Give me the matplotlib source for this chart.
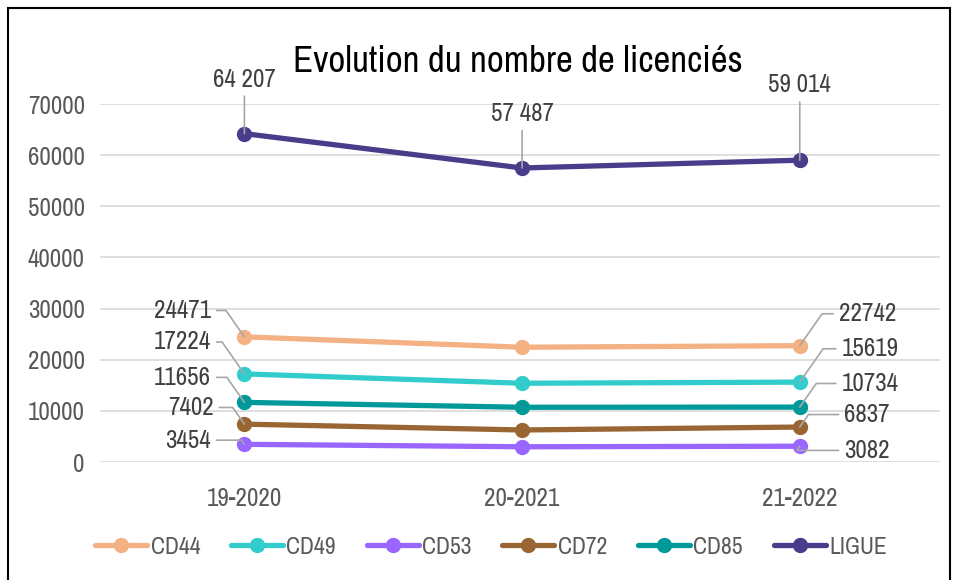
import matplotlib.pyplot as plt
from matplotlib.patches import Rectangle

seasons = ['19-2020', '20-2021', '21-2022']
cd44 = [24471, 22440, 22742]
cd49 = [17224, 15400, 15619]
cd53 = [3454, 2980, 3082]
cd72 = [7402, 6260, 6837]
cd85 = [11656, 10700, 10734]
ligue = [64207, 57487, 59014]
ligue_labels = ['64 207', '57 487', '59 014']

series = [
    ('CD44', cd44, '#F4B183'),
    ('CD49', cd49, '#33CCCC'),
    ('CD53', cd53, '#9966FF'),
    ('CD72', cd72, '#996633'),
    ('CD85', cd85, '#009999'),
    ('LIGUE', ligue, '#483D8B'),
]

plt.rcParams['font.family'] = ['Archivo Narrow', 'DejaVu Sans']

fig = plt.figure(figsize=(9.57, 5.8), dpi=100)
ax = fig.add_axes([100/957, 1-462/580, 840/957, 358/580])

x = list(range(len(seasons)))
for name, vals, col in series:
    ax.plot(x, vals, color=col, lw=3.8, marker='o', ms=10, label=name,
            solid_capstyle='round')

ax.set_ylim(0, 70000)
ax.set_xlim(-0.52, 2.505)
ax.set_yticks(range(0, 70001, 10000))
ax.set_xticks(x)
ax.set_xticklabels(seasons)
ax.grid(axis='y', color='#d9d9d9', lw=1.2)
ax.set_axisbelow(True)
for s in ax.spines.values():
    s.set_visible(False)
ax.tick_params(length=0, labelsize=18, colors='#595959')
ax.tick_params(axis='x', pad=18)
ax.tick_params(axis='y', pad=11)

lead = dict(arrowstyle='-', color='#a6a6a6', lw=1.2, shrinkA=2, shrinkB=0)

# labels on the left (first season) and right (last season)
left_off = {'CD44': (-24, 19), 'CD49': (-24, 23), 'CD53': (-24, 3),
            'CD72': (-22, 12), 'CD85': (-24, 18)}
right_off = {'CD44': (28, 23), 'CD49': (30, 24), 'CD53': (32, -3),
             'CD72': (32, 9), 'CD85': (30, 17)}
for name, vals, col in series[:5]:
    dx, dy = left_off[name]
    ax.annotate(str(vals[0]), (x[0], vals[0]), xytext=(dx, dy),
                textcoords='offset points', ha='right', va='center',
                fontsize=18, color='#404040',
                arrowprops=dict(lead, relpos=(1, 0.5),
                                connectionstyle='angle,angleA=0,angleB=125'))
    dx, dy = right_off[name]
    ax.annotate(str(vals[2]), (x[2], vals[2]), xytext=(dx, dy),
                textcoords='offset points', ha='left', va='center',
                fontsize=18, color='#404040',
                arrowprops=dict(lead, relpos=(0, 0.5),
                                connectionstyle='angle,angleA=0,angleB=55'))

lig_dy = [31, 31, 46]
for i in x:
    ax.annotate(ligue_labels[i], (x[i], ligue[i]), xytext=(0, lig_dy[i]),
                textcoords='offset points', ha='center', va='bottom',
                fontsize=18, color='#404040',
                arrowprops=dict(lead, relpos=(0.5, 0)))

fig.text(518/957, 1-62/580, 'Evolution du nombre de licenciés', ha='center',
         va='center', fontsize=26.5, color='black')

fig.legend(loc='center', bbox_to_anchor=(491/957, 1-547/580), ncol=6,
           frameon=False, fontsize=17, handlelength=2.2, columnspacing=1.3,
           handletextpad=0.15, labelcolor='#595959')

fig.patches.append(Rectangle((8/957, -0.02), 942/957, 1-8/580+0.02,
                             transform=fig.transFigure, fill=False,
                             edgecolor='black', lw=1.5))

fig.savefig('out.png', dpi=100)
